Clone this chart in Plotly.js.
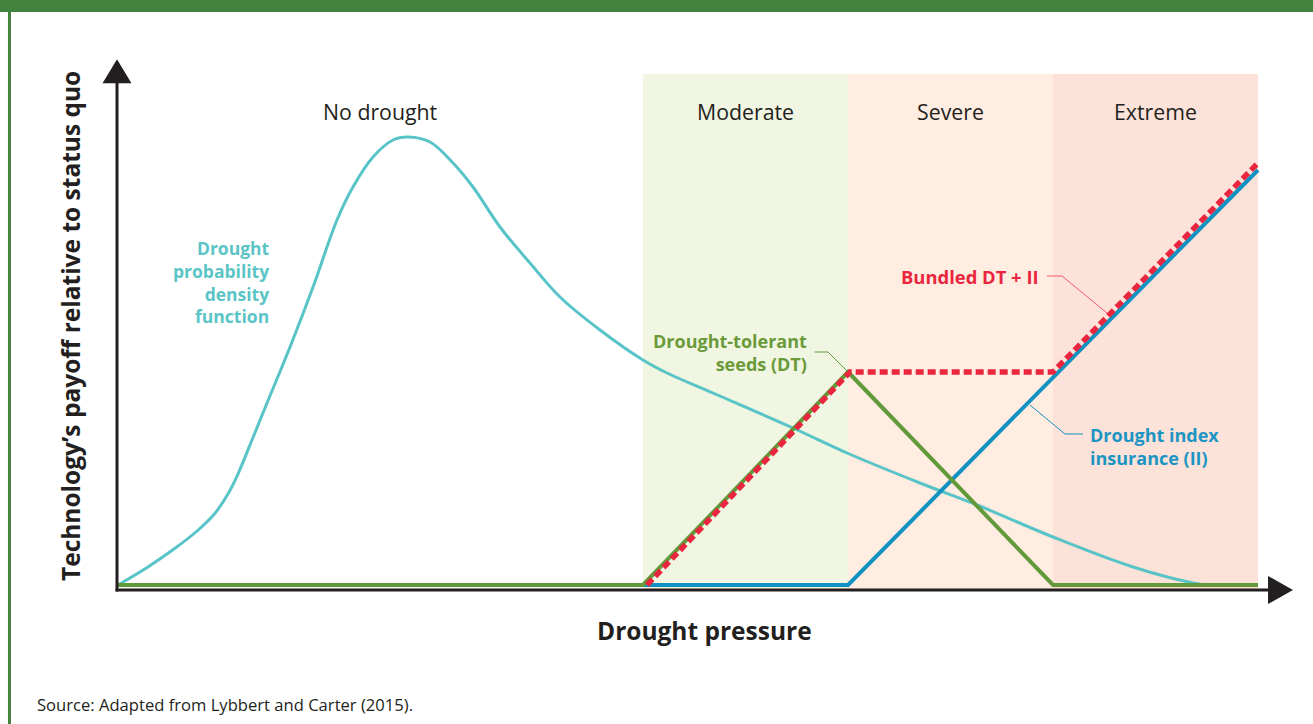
<!DOCTYPE html>
<html>
<head>
<meta charset="utf-8">
<script src="https://cdn.plot.ly/plotly-3.0.1.min.js"></script>
<style>
html,body{margin:0;padding:0;background:#fff;}
#chart{width:1313px;height:724px;}
</style>
</head>
<body>
<div id="chart"></div>
<script>
// ---- Data (drought pressure 0..100, payoff 0..~100) ----
const pdfX = [0, 2.66, 5.0, 7.04, 8.51, 9.68, 10.55, 11.87, 13.18, 15.09, 17.11, 19.21, 20.61, 22.37, 24.12, 25.44, 27.37, 29.39, 31.14, 33.51, 36.14, 38.77, 42.28, 46.05, 48.16, 52.19, 59.21, 63.95, 70.35, 75.35, 82.02, 89.04, 94.3, 95.5, 100];
const pdfY = [0, 3.66, 7.34, 11.0, 14.34, 18.34, 22.34, 29.66, 37.0, 47.6, 59.6, 73.0, 79.6, 85.6, 89.0, 89.6, 88.6, 84.4, 79.6, 71.6, 64.4, 57.6, 51.0, 45.0, 42.4, 38.4, 31.4, 26.4, 20.4, 16.0, 9.6, 3.6, 0.4, 0, 0];

const dtX = [0, 46.05, 64.04, 82.02, 100];
const dtY = [0, 0, 42.6, 0, 0];

const iiX = [0, 64.04, 100];
const iiY = [0, 0, 83.0];

const bundledX = [46.4, 64.2, 82.02, 100];
const bundledY = [0, 42.6, 42.6, 84.4];

const bandNames = ["No drought", "Moderate", "Severe", "Extreme"];
const bandStart = [0, 46.05, 64.04, 82.02];
const bandEnd = [46.05, 64.04, 82.02, 100];
const bandColors = ["rgba(255,255,255,0)", "#f1f6e2", "#feede0", "#fde2d9"];

const xTitle = "Drought pressure";
const yTitle = "Technology’s payoff relative to status quo";
const sourceText = "Source: Adapted from Lybbert and Carter (2015).";

// ---- Styling ----
const C = {
  pdf: "#58c4c7", dt: "#629a3b", ii: "#1192c2", red: "#e9263e",
  ink: "#231f20", frame: "#43833d"
};
const FONT = "'Open Sans', 'Noto Sans', sans-serif";
const LBL = 18;

// Axis ranges so that the full page is the plotting area
const XR = [-10.351, 104.825];
const YR = [-27.8, 117];

const traces = [
  {x: pdfX, y: pdfY, mode: "lines", line: {color: C.pdf, width: 3, shape: "spline", smoothing: 1}, hoverinfo: "skip", showlegend: false, name: "Drought probability density function"},
  {x: iiX, y: iiY, mode: "lines", line: {color: C.ii, width: 4}, hoverinfo: "skip", showlegend: false, name: "Drought index insurance (II)"},
  {x: dtX, y: dtY, mode: "lines", line: {color: C.dt, width: 4}, hoverinfo: "skip", showlegend: false, name: "Drought-tolerant seeds (DT)"},
  {x: bundledX, y: bundledY, mode: "lines", line: {color: C.red, width: 5.5, dash: "8px,4px"}, hoverinfo: "skip", showlegend: false, name: "Bundled DT + II"}
];

const shapes = [];
// background bands
for (let i = 0; i < bandNames.length; i++) {
  shapes.push({type: "rect", xref: "x", yref: "y", x0: bandStart[i], x1: bandEnd[i], y0: -1, y1: 102.2,
    fillcolor: bandColors[i], line: {width: 0}, layer: "below"});
}
// frame (top bar and left rule)
shapes.push({type: "rect", xref: "x", yref: "y", x0: XR[0], x1: XR[1], y0: 114.6, y1: YR[1], fillcolor: C.frame, line: {width: 0}});
shapes.push({type: "line", xref: "x", yref: "y", x0: -9.52, x1: -9.52, y0: YR[0], y1: 114.6, line: {color: C.frame, width: 3}});
// axes with arrowheads
const ax0 = -0.088, ay0 = -1;
shapes.push({type: "line", x0: ax0, x1: ax0, y0: ay0 - 0.3, y1: 100.6, line: {color: C.ink, width: 3}});
shapes.push({type: "line", x0: ax0 - 0.13, x1: 101.2, y0: ay0, y1: ay0, line: {color: C.ink, width: 3}});
shapes.push({type: "path", path: `M ${ax0} 105.14 L ${ax0 - 1.27} 100.34 L ${ax0 + 1.27} 100.34 Z`, fillcolor: C.ink, line: {width: 0}});
shapes.push({type: "path", path: `M 103.07 ${ay0} L 100.88 ${ay0 + 2.8} L 100.88 ${ay0 - 2.8} Z`, fillcolor: C.ink, line: {width: 0}});
// leader lines
const leaders = [
  {pts: [[61.1, 46.6], [62.28, 46.6], [64.0, 42.7]], color: C.dt},
  {pts: [[81.49, 61.8], [82.81, 61.8], [86.75, 54.4]], color: "#ef5a6a"},
  {pts: [[80.0, 36.0], [83.07, 30.2], [84.65, 30.2]], color: C.ii}
];
leaders.forEach(l => {
  const p = l.pts.map((q, i) => (i ? "L " : "M ") + q[0] + " " + q[1]).join(" ");
  shapes.push({type: "path", path: p, line: {color: l.color, width: 1}});
});

const annotations = [];
for (let i = 0; i < bandNames.length; i++) {
  annotations.push({x: (bandStart[i] + bandEnd[i]) / 2, y: 94.8, text: bandNames[i], showarrow: false,
    font: {family: FONT, size: 21.3, color: C.ink}, xanchor: "center", yanchor: "middle"});
}
annotations.push({x: 13.5, y: 60.6, text: "Drought<br>probability<br>density<br>function", showarrow: false, align: "right",
  xanchor: "right", yanchor: "middle", font: {family: FONT, size: 17.5, color: "#5bc4c6", weight: "bold"}});
annotations.push({x: 60.6, y: 46.6, text: "Drought-tolerant<br>seeds (DT)", showarrow: false, align: "right",
  xanchor: "right", yanchor: "middle", font: {family: FONT, size: LBL, color: "#6a9a3a", weight: "bold"}});
annotations.push({x: 81.0, y: 61.8, text: "Bundled DT + II", showarrow: false, align: "right",
  xanchor: "right", yanchor: "middle", font: {family: FONT, size: 18.4, color: C.red, weight: "bold"}});
annotations.push({x: 85.1, y: 27.8, text: "Drought index<br>insurance (II)", showarrow: false, align: "left",
  xanchor: "left", yanchor: "middle", font: {family: FONT, size: LBL, color: "#1b95c3", weight: "bold"}});
annotations.push({x: 51.49, y: -9, text: xTitle, showarrow: false, xanchor: "center", yanchor: "middle",
  font: {family: FONT, size: 24.5, color: C.ink, weight: "bold"}});
annotations.push({x: -4.21, y: 51.8, text: yTitle, showarrow: false, textangle: -90, xanchor: "center", yanchor: "middle",
  font: {family: FONT, size: 24.5, color: C.ink, weight: "bold"}});
annotations.push({x: -7.3, y: -23.8, text: sourceText, showarrow: false, xanchor: "left", yanchor: "middle",
  font: {family: FONT, size: 16.6, color: C.ink}});

const layout = {
  width: 1313, height: 724,
  margin: {l: 0, r: 0, t: 0, b: 0, pad: 0},
  paper_bgcolor: "#ffffff", plot_bgcolor: "#ffffff",
  xaxis: {range: XR, visible: false, fixedrange: true},
  yaxis: {range: YR, visible: false, fixedrange: true},
  shapes: shapes, annotations: annotations, showlegend: false
};

Plotly.newPlot("chart", traces, layout, {displayModeBar: false, staticPlot: true});
</script>
</body>
</html>
